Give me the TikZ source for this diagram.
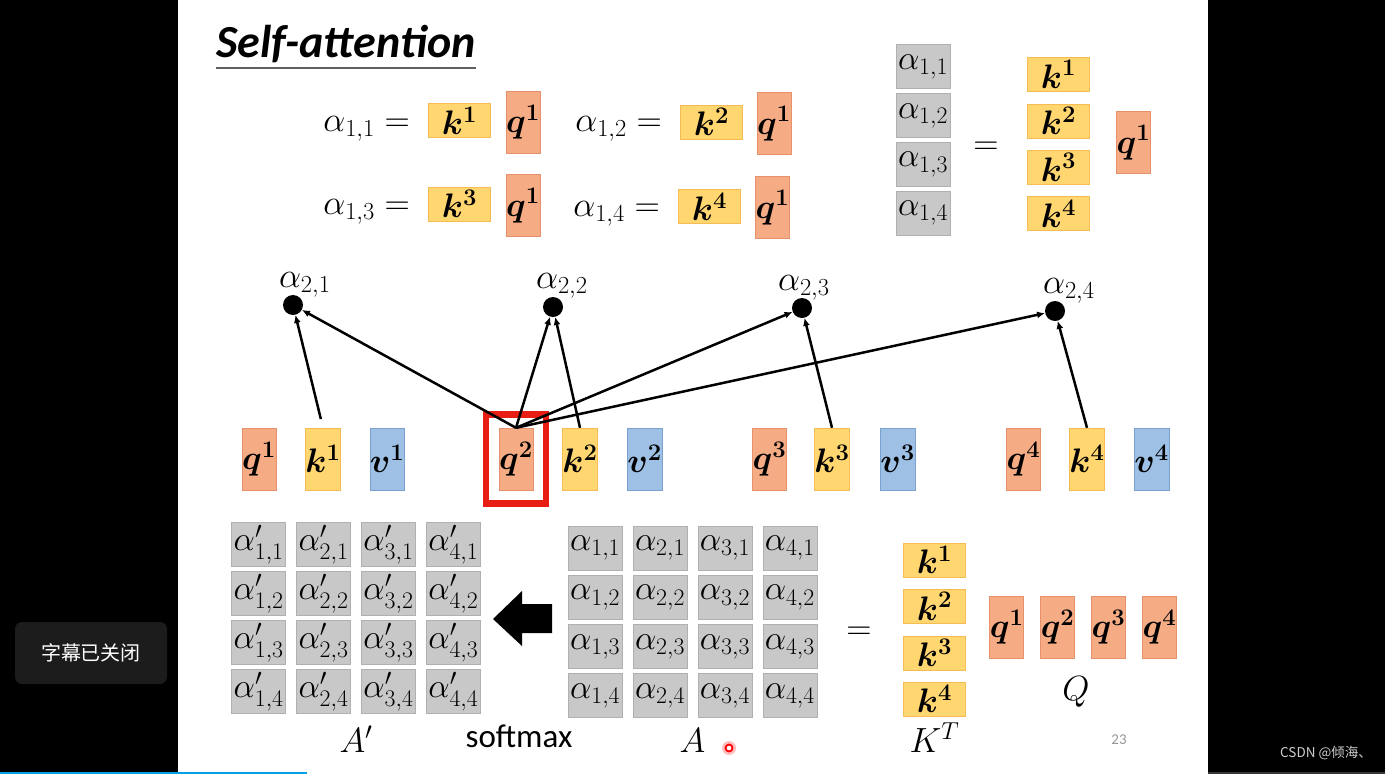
\RequirePackage{fix-cm}
\documentclass[tikz,border=0pt]{standalone}
\usepackage{bm}
\usepackage[no-math]{fontspec}
\setmainfont{Carlito}
\newfontfamily\cjkfont{Noto Sans CJK SC}
\usetikzlibrary{matrix}
\usetikzlibrary{positioning}
\usetikzlibrary{arrows.meta}

\definecolor{qfill}{RGB}{245,172,132}
\definecolor{qline}{RGB}{230,145,105}
\definecolor{kfill}{RGB}{255,214,112}
\definecolor{kline}{RGB}{244,188,82}
\definecolor{vfill}{RGB}{157,192,228}
\definecolor{vline}{RGB}{122,162,208}
\definecolor{afill}{RGB}{200,200,200}
\definecolor{aline}{RGB}{176,176,176}
\definecolor{hilite}{RGB}{232,30,20}
\definecolor{uline}{RGB}{95,95,95}
\definecolor{capgray}{RGB}{28,28,28}
\definecolor{barblue}{RGB}{0,164,230}
\definecolor{bargray}{RGB}{55,55,55}
\definecolor{pggray}{RGB}{150,150,150}
\definecolor{csdngray}{RGB}{205,205,205}

\begin{document}
\begin{tikzpicture}[x=1pt, y=-1pt]

\tikzset{cellbox/.style={inner sep=0pt, font=\fontsize{34}{34}\selectfont},
         qbox/.style={cellbox, draw=qline, fill=qfill, minimum width=34pt, minimum height=62pt},
         kbox/.style={cellbox, draw=kline, fill=kfill, minimum width=62pt, minimum height=34pt},
         kvbox/.style={cellbox, draw=kline, fill=kfill, minimum width=34pt, minimum height=62pt},
         vbox/.style={cellbox, draw=vline, fill=vfill, minimum width=34pt, minimum height=62pt},
         abox/.style={cellbox, draw=aline, fill=afill, minimum width=54pt, minimum height=44pt},
         mathtxt/.style={inner sep=0pt, font=\fontsize{35}{35}\selectfont},
         bigtxt/.style={inner sep=0pt, font=\fontsize{35}{35}\selectfont},
         score/.style={circle, fill=black, minimum size=20pt, inner sep=0pt},
         attn/.style={line width=2.5pt, -{Latex[length=8pt, width=7pt]}},
         alpha-matrix/.style={matrix of math nodes, inner sep=0pt, nodes={abox},
                              column sep=10.5pt, row sep=4.7pt},
         key-column/.style={matrix of math nodes, inner sep=0pt, nodes={kbox},
                            row sep=12pt}}

% screen and slide
\useasboundingbox (0,0) rectangle (1385,774);
\fill[black] (0,0) rectangle (1385,774);
\fill[white] (178,0) rectangle (1208,774);
\fill[barblue] (0,771.5) rectangle (307,774);
\fill[bargray] (1208,771.5) rectangle (1385,774);

\node (title) [anchor=base west, inner sep=0pt,
               font=\fontsize{46}{46}\selectfont\bfseries\itshape] at (216,57) {Self-attention};
\draw[uline, line width=2pt] (title.west |- 0,68) -- (title.east |- 0,68);

% alpha_{1,i} one by one
\node (e11) [mathtxt, anchor=base east] at (410,131) {$\alpha_{1,1}=$};
\node (k11) [kbox] at (459.5,120.5) {$\bm{k^1}$};
\node (q11) [qbox] at (523,122) {$\bm{q^1}$};
\node (e12) [mathtxt, anchor=base east] at (662,131) {$\alpha_{1,2}=$};
\node (k12) [kbox] at (711.5,122) {$\bm{k^2}$};
\node (q12) [qbox] at (774,123.5) {$\bm{q^1}$};
\node (e13) [mathtxt, anchor=base east] at (410,214) {$\alpha_{1,3}=$};
\node (k13) [kbox] at (459.5,204) {$\bm{k^3}$};
\node (q13) [qbox] at (523,205.5) {$\bm{q^1}$};
\node (e14) [mathtxt, anchor=base east] at (660,216) {$\alpha_{1,4}=$};
\node (k14) [kbox] at (709.5,206.5) {$\bm{k^4}$};
\node (q14) [qbox] at (772.5,207.5) {$\bm{q^1}$};

% the same as a column
\matrix (S) [alpha-matrix, row sep=4.5pt] at (923,140) {
  \alpha_{1,1} \\
  \alpha_{1,2} \\
  \alpha_{1,3} \\
  \alpha_{1,4} \\
};
\node (eqr) [mathtxt] at (986,148) {$=$};
\matrix (Kc) [key-column] at (1058.5,144) {
  \bm{k^1} \\
  \bm{k^2} \\
  \bm{k^3} \\
  \bm{k^4} \\
};
\node (qc) [qbox] at (1133.5,142.5) {$\bm{q^1}$};

% q, k, v of every input
\node (q1) [qbox] at (259,459) {$\bm{q^1}$};
\node (k1) [kvbox] at (323,459) {$\bm{k^1}$};
\node (v1) [vbox] at (387,459) {$\bm{v^1}$};
\node (q2) [qbox] at (516,459) {$\bm{q^2}$};
\node (k2) [kvbox] at (580,459) {$\bm{k^2}$};
\node (v2) [vbox] at (644.5,459) {$\bm{v^2}$};
\node (q3) [qbox] at (769.5,459) {$\bm{q^3}$};
\node (k3) [kvbox] at (832,459) {$\bm{k^3}$};
\node (v3) [vbox] at (897.5,459) {$\bm{v^3}$};
\node (q4) [qbox] at (1023.5,459) {$\bm{q^4}$};
\node (k4) [kvbox] at (1087,459) {$\bm{k^4}$};
\node (v4) [vbox] at (1151.5,459) {$\bm{v^4}$};

\node (hl) [draw=hilite, line width=6.5pt, minimum width=60pt, minimum height=89pt] at (q2) {};

\node (a21) [score] at (293,305) {};
\node (a22) [score] at (553,307) {};
\node (a23) [score] at (802,308) {};
\node (a24) [score] at (1055,311) {};
\node (t21) [mathtxt, anchor=base west] at (279,287) {$\alpha_{2,1}$};
\node (t22) [mathtxt, anchor=base west] at (536,288) {$\alpha_{2,2}$};
\node (t23) [mathtxt, anchor=base west] at (778,290) {$\alpha_{2,3}$};
\node (t24) [mathtxt, anchor=base west] at (1043,293) {$\alpha_{2,4}$};

\draw[attn, shorten <=9pt] (k1.north) -- (a21);
\draw[attn] (q2.north) -- (a21);
\draw[attn] (q2.north) -- (a22);
\draw[attn] (k2.north) -- (a22);
\draw[attn] (q2.north) -- (a23);
\draw[attn] (k3.north) -- (a23);
\draw[attn] (q2.north) -- (a24);
\draw[attn] (k4.north) -- (a24);

% A' <- softmax <- A = K^T Q
\matrix (Ap) [alpha-matrix] at (356,618) {
  \alpha'_{1,1} & \alpha'_{2,1} & \alpha'_{3,1} & \alpha'_{4,1} \\
  \alpha'_{1,2} & \alpha'_{2,2} & \alpha'_{3,2} & \alpha'_{4,2} \\
  \alpha'_{1,3} & \alpha'_{2,3} & \alpha'_{3,3} & \alpha'_{4,3} \\
  \alpha'_{1,4} & \alpha'_{2,4} & \alpha'_{3,4} & \alpha'_{4,4} \\
};
\matrix (A) [alpha-matrix] at (692.5,622) {
  \alpha_{1,1} & \alpha_{2,1} & \alpha_{3,1} & \alpha_{4,1} \\
  \alpha_{1,2} & \alpha_{2,2} & \alpha_{3,2} & \alpha_{4,2} \\
  \alpha_{1,3} & \alpha_{2,3} & \alpha_{3,3} & \alpha_{4,3} \\
  \alpha_{1,4} & \alpha_{2,4} & \alpha_{3,4} & \alpha_{4,4} \\
};
\fill (493,619) -- (522,591) -- (522,604) -- (552,604) -- (552,633) -- (522,633) -- (522,646) -- cycle;
\node (eqb) [mathtxt] at (859,633) {$=$};
\matrix (KT) [key-column] at (934.5,629.5) {
  \bm{k^1} \\
  \bm{k^2} \\
  \bm{k^3} \\
  \bm{k^4} \\
};
\matrix (Q) [matrix of math nodes, inner sep=0pt, nodes={qbox}, column sep=16.5pt] at (1083,627) {
  \bm{q^1} & \bm{q^2} & \bm{q^3} & \bm{q^4} \\
};

\node (lAp) [bigtxt, anchor=base] at (Ap.south |- 0,752) {$A'$};
\node (lA) [bigtxt, anchor=base] at (A.south |- 0,752) {$A$};
\node (lKT) [bigtxt, anchor=base] at (KT.south |- 0,752) {$K^T$};
\node (lQ) [bigtxt, anchor=base] at (1076,700) {$Q$};
\node (smx) [inner sep=0pt, anchor=base, font=\fontsize{33}{33}\selectfont] at (519,747) {softmax};

\fill[red, opacity=0.25] (729,748) circle (7pt);
\draw[red, line width=1.8pt, fill=white] (729,748) circle (3.5pt);
\node (pg) [inner sep=0pt, anchor=base, text=pggray, font=\fontsize{15}{15}\selectfont] at (1119,744) {23};

% player overlay
\node (cap) [fill=capgray, rounded corners=7pt, minimum width=152pt, minimum height=62pt,
             text=white, font=\cjkfont\fontsize{20}{20}\selectfont] at (91,653) {字幕已关闭};
\node (csdn) [anchor=base west, inner sep=0pt, text=csdngray,
              font=\cjkfont\fontsize{13.5}{13.5}\selectfont] at (1280,757) {CSDN @倾海、};

\end{tikzpicture}
\end{document}
